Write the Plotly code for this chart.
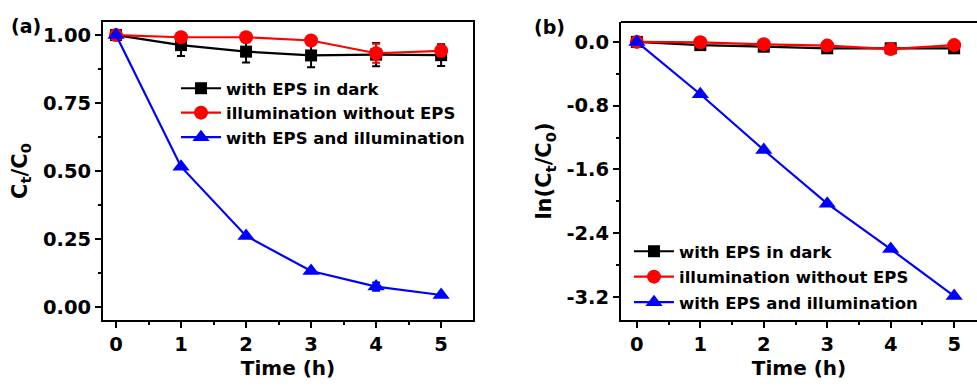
import plotly.graph_objects as go

# ---------------- data ----------------
time_h = [0, 1, 2, 3, 4, 5]

# panel (a): Ct/C0
dark_ratio = [1.00, 0.963, 0.939, 0.925, 0.928, 0.926]
dark_err = [0.0, 0.04, 0.04, 0.043, 0.043, 0.04]
illum_ratio = [1.00, 0.992, 0.992, 0.980, 0.933, 0.942]
illum_err = [0.0, 0.01, 0.01, 0.012, 0.035, 0.02]
eps_illum_ratio = [1.00, 0.516, 0.261, 0.132, 0.075, 0.044]
eps_illum_err = [0.0, 0.0, 0.0, 0.0, 0.015, 0.0]

# panel (b): ln(Ct/C0)
dark_ln = [0.0, -0.04, -0.06, -0.08, -0.08, -0.08]
illum_ln = [0.0, -0.005, -0.03, -0.046, -0.09, -0.04]
eps_illum_ln = [0.0, -0.657, -1.357, -2.03, -2.60, -3.19]

series_names = ["with EPS in dark", "illumination without EPS", "with EPS and illumination"]

x_ticks = [0, 1, 2, 3, 4, 5]
x_ticktext = ["0", "1", "2", "3", "4", "5"]
ya_ticks = [0.0, 0.25, 0.5, 0.75, 1.0]
ya_ticktext = ["0.00", "0.25", "0.50", "0.75", "1.00"]
yb_ticks = [0.0, -0.8, -1.6, -2.4, -3.2]
yb_ticktext = ["0.0", "-0.8", "-1.6", "-2.4", "-3.2"]

# ---------------- style ----------------
W, H = 977, 387
FONT = "DejaVu Sans, Arial, sans-serif"
colors = ["#000000", "#ff0000", "#0000ff"]
symbols = ["square", "circle", "triangle-up"]
msizes = [12, 14, 15]

fig = go.Figure()

a_vals = [dark_ratio, illum_ratio, eps_illum_ratio]
a_errs = [dark_err, illum_err, eps_illum_err]
b_vals = [dark_ln, illum_ln, eps_illum_ln]

for i in range(3):
    fig.add_trace(go.Scatter(
        x=time_h, y=a_vals[i], name=series_names[i], mode="lines+markers",
        line=dict(color=colors[i], width=2.2),
        marker=dict(symbol=symbols[i], size=msizes[i], color=colors[i]),
        error_y=dict(type="data", array=a_errs[i], color=colors[i], thickness=2, width=4),
        xaxis="x", yaxis="y", legend="legend", legendgroup="a%d" % i,
    ))
for i in range(3):
    fig.add_trace(go.Scatter(
        x=time_h, y=b_vals[i], name=series_names[i], mode="lines+markers",
        line=dict(color=colors[i], width=2.2),
        marker=dict(symbol=symbols[i], size=msizes[i], color=colors[i]),
        xaxis="x2", yaxis="y2", legend="legend2", legendgroup="b%d" % i,
    ))

ydom = [1 - 320 / H, 1 - 22 / H]
tickfont = dict(family=FONT, size=19.5, color="black", weight="bold")
xtitlefont = dict(family=FONT, size=20, color="black", weight="bold")
ytitlefont = dict(family=FONT, size=21, color="black", weight="bold")
legfont = dict(family=FONT, size=16.5, color="black", weight="bold")

def xaxis(domain, rng, anchor, mirror):
    return dict(
        domain=domain, range=rng, anchor=anchor,
        tickvals=x_ticks, ticktext=x_ticktext, tickfont=tickfont,
        ticks="outside", ticklen=6, tickwidth=2, tickcolor="black",
        minor=dict(dtick=0.5, tick0=0, ticks="outside", ticklen=3, tickwidth=2, tickcolor="black"),
        showline=True, linewidth=2, linecolor="black", mirror=mirror,
        showgrid=False, zeroline=False,
        title=dict(text="Time (h)", font=xtitlefont, standoff=4),
    )

fig.update_layout(
    width=W, height=H,
    margin=dict(l=0, r=0, t=0, b=0),
    paper_bgcolor="white", plot_bgcolor="white",
    xaxis=xaxis([103 / W, 473 / W], [-0.2, 5.49], "y", True),
    yaxis=dict(
        domain=ydom, range=[-0.048, 1.048], anchor="x",
        tickvals=ya_ticks, ticktext=ya_ticktext, tickfont=tickfont,
        ticks="outside", ticklen=6, tickwidth=2, tickcolor="black",
        minor=dict(dtick=0.125, tick0=0, ticks="outside", ticklen=3, tickwidth=2, tickcolor="black"),
        showline=True, linewidth=2, linecolor="black", mirror=True,
        showgrid=False, zeroline=False,
        title=dict(text="C<sub>t</sub>/C<sub>0</sub>", font=ytitlefont, standoff=10),
    ),
    xaxis2=xaxis([621 / W, 1.0], [-0.25, 5.36], "y2", False),
    yaxis2=dict(
        domain=ydom, range=[-3.49, 0.25], anchor="x2",
        tickvals=yb_ticks, ticktext=yb_ticktext, tickfont=tickfont,
        ticks="outside", ticklen=6, tickwidth=2, tickcolor="black",
        minor=dict(dtick=0.4, tick0=0, ticks="outside", ticklen=3, tickwidth=2, tickcolor="black"),
        showline=True, linewidth=2, linecolor="black", mirror=False,
        showgrid=False, zeroline=False,
        title=dict(text="ln(C<sub>t</sub>/C<sub>0</sub>)", font=ytitlefont, standoff=9),
    ),
    legend=dict(
        x=176 / W, y=1 - 71 / H, xanchor="left", yanchor="top",
        font=legfont, bgcolor="rgba(0,0,0,0)", tracegroupgap=0, itemwidth=40,
    ),
    legend2=dict(
        x=629 / W, y=1 - 234 / H, xanchor="left", yanchor="top",
        font=legfont, bgcolor="rgba(0,0,0,0)", tracegroupgap=1, itemwidth=40,
    ),
    showlegend=True,
    shapes=[dict(type="line", xref="x2 domain", yref="y2 domain", x0=0, x1=1, y0=1, y1=1,
                 line=dict(color="black", width=2))],
    annotations=[
        dict(text="(a)", x=9 / W, y=1 - 26 / H, xref="paper", yref="paper", xanchor="left",
             yanchor="middle", showarrow=False, font=dict(family=FONT, size=19, color="black", weight="bold")),
        dict(text="(b)", x=532 / W, y=1 - 27 / H, xref="paper", yref="paper", xanchor="left",
             yanchor="middle", showarrow=False, font=dict(family=FONT, size=19, color="black", weight="bold")),
    ],
)

fig.write_html("out.html", config={"displayModeBar": False},
               post_script="document.body.style.margin='0';document.body.style.padding='0';")
